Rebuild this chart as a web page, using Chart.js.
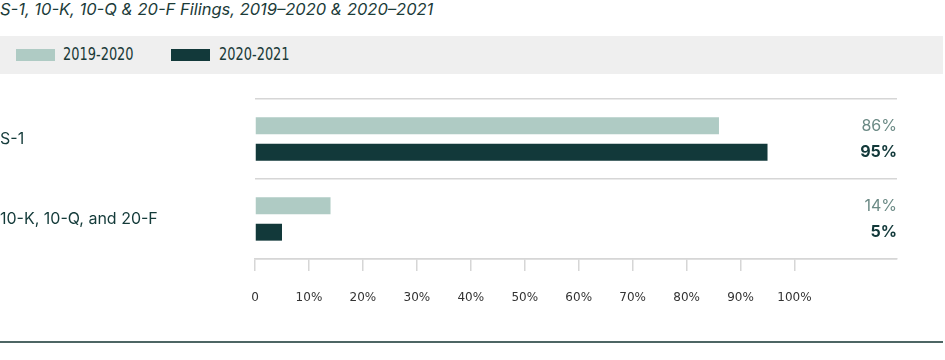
<!DOCTYPE html>
<html>
<head>
<meta charset="utf-8">
<script src="https://cdn.jsdelivr.net/npm/chart.js@4"></script>
<style>
  body { margin: 0; background: #fff; width: 945px; height: 360px; position: relative; overflow: hidden; }
  .title { position: absolute; left: 0; top: -1px; font: italic 16.5px Inter, "Noto Sans", sans-serif; color: #1b3b39; white-space: nowrap; }
  .legend { position: absolute; left: 0; top: 36px; width: 943px; height: 38px; background: #efefef; }
  .legend span.sw { position: absolute; top: 13px; width: 39px; height: 12px; }
  .legend span.lb { position: absolute; top: 7px; font: 18px "DejaVu Sans Condensed", "Liberation Sans Narrow", sans-serif; font-stretch: condensed; color: #1a3a38; transform: scaleX(0.8); transform-origin: left center; }
  .wrap { position: absolute; left: 0; top: 80px; width: 945px; height: 230px; }
  .rule { position: absolute; left: 0; top: 341px; width: 943px; height: 2px; background: #4d6664; }
</style>
</head>
<body>
<div class="title">S-1, 10-K, 10-Q &amp; 20-F Filings, 2019–2020 &amp; 2020–2021</div>
<div class="legend" id="legend"></div>
<div class="wrap"><canvas id="chart"></canvas></div>
<div class="rule"></div>
<script>
const categories = ["S-1", "10-K, 10-Q, and 20-F"];
const seriesNames = ["2019-2020", "2020-2021"];
const values2019 = [86, 14];
const values2020 = [95, 5];
const tickValues = [0, 10, 20, 30, 40, 50, 60, 70, 80, 90, 100];

const colors = ["#afcbc4", "#12393a"];
const labelColors = ["#6b8a85", "#12393a"];

// html legend in the gray band
const legendPos = [[16, 63], [171, 219]];
const legendEl = document.getElementById("legend");
legendEl.innerHTML = seriesNames.map((name, i) =>
  `<span class="sw" style="left:${legendPos[i][0]}px;background:${colors[i]}"></span>` +
  `<span class="lb" style="left:${legendPos[i][1]}px">${name}</span>`
).join("");

const valueLabels = {
  id: "valueLabels",
  afterDatasetsDraw(chart) {
    const ctx = chart.ctx;
    const right = chart.chartArea.right;
    chart.data.datasets.forEach((ds, i) => {
      const meta = chart.getDatasetMeta(i);
      meta.data.forEach((bar, j) => {
        ctx.save();
        ctx.font = (i === 1 ? "bold " : "") + "16px Inter, 'Noto Sans', sans-serif";
        ctx.fillStyle = labelColors[i];
        ctx.textAlign = "right";
        ctx.textBaseline = "middle";
        ctx.fillText(ds.data[j] + "%", right, bar.y);
        ctx.restore();
      });
    });
  }
};

new Chart(document.getElementById("chart"), {
  type: "bar",
  data: {
    labels: categories,
    datasets: [
      { label: seriesNames[0], data: values2019, backgroundColor: colors[0] },
      { label: seriesNames[1], data: values2020, backgroundColor: colors[1] }
    ]
  },
  options: {
    indexAxis: "y",
    responsive: true,
    maintainAspectRatio: false,
    animation: false,
    categoryPercentage: 0.66,
    barPercentage: 0.64,
    layout: { padding: { top: 19, right: 48, left: 0, bottom: 0 } },
    plugins: { legend: { display: false }, tooltip: { enabled: false } },
    scales: {
      x: {
        min: 0,
        max: 119,
        afterBuildTicks: scale => { scale.ticks = tickValues.map(v => ({ value: v })); },
        afterFit: scale => { scale.height = 51; },
        grid: { drawOnChartArea: false, drawTicks: true, tickLength: 12, color: "#d6d6d6", lineWidth: 1.5 },
        border: { display: true, color: "#d6d6d6", width: 1.5 },
        ticks: {
          padding: 20,
          color: "#333",
          font: { family: "'DejaVu Sans'", size: 12 },
          callback: v => v === 0 ? "0" : v + "%"
        }
      },
      y: {
        afterFit: scale => { scale.width = 255; },
        grid: { offset: true, drawTicks: false, color: "#d6d6d6", lineWidth: 1.5 },
        border: { display: false },
        ticks: {
          crossAlign: "far",
          padding: 0,
          color: "#143b3a",
          font: { family: "Inter, 'Noto Sans', sans-serif", size: 16 }
        }
      }
    }
  },
  plugins: [valueLabels]
});
</script>
</body>
</html>
